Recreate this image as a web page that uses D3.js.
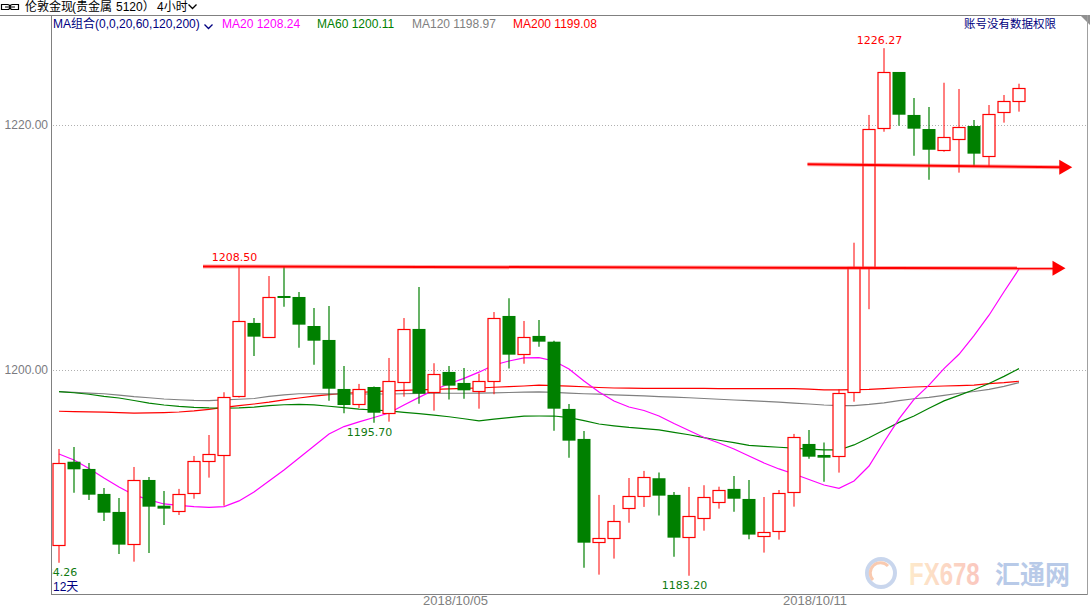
<!DOCTYPE html>
<html><head><meta charset="utf-8">
<script src="https://cdn.jsdelivr.net/npm/d3@7"></script>
<style>body{margin:0;background:#fff}svg{display:block}</style>
</head><body>
<svg id="c" width="1090" height="609"></svg>
<script>
// ---------- data ----------
const days = ["10/01","10/02","10/03","10/04","10/05","10/08","10/09","10/10","10/11","10/12","10/15"];
const hours = ["02:00","06:00","10:00","14:00","18:00","22:00"];
const open = [1185.71,1192.51,1191.92,1189.88,1188.41,1185.77,1191.02,1188.92,1188.47,1189.93,
  1192.55,1193.04,1197.90,1203.84,1202.72,1206.04,1205.96,1203.59,1202.45,1198.45,
  1197.20,1198.61,1196.47,1199.04,1203.35,1198.18,1199.84,1198.94,1198.26,1199.08,
  1204.41,1201.28,1202.78,1202.31,1196.82,1194.37,1185.93,1186.26,1188.71,1189.69,
  1191.16,1189.80,1186.34,1187.89,1189.20,1190.29,1189.47,1186.42,1186.83,1190.02,
  1193.96,1193.06,1192.96,1198.18,1208.43,1219.73,1224.33,1220.82,1219.67,1217.93,
  1218.83,1219.92,1217.49,1221.04,1221.93];
const high = [1193.55,1193.71,1192.41,1190.37,1189.55,1192.08,1191.27,1190.12,1190.29,1192.98,
  1194.69,1198.18,1208.50,1204.24,1207.67,1208.43,1206.37,1205.06,1205.22,1200.33,
  1198.86,1198.65,1200.98,1204.24,1206.78,1200.55,1200.33,1200.16,1199.70,1204.73,
  1205.85,1204.00,1204.08,1202.39,1197.22,1195.02,1189.80,1188.98,1191.18,1191.76,
  1191.62,1190.04,1190.45,1190.59,1190.47,1191.35,1191.02,1189.63,1190.20,1194.78,
  1195.10,1194.07,1198.42,1210.39,1220.82,1226.27,1224.33,1222.20,1221.47,1223.45,
  1222.94,1220.41,1221.63,1222.45,1223.37];
const low = [1184.26,1189.98,1189.39,1187.67,1184.98,1184.35,1185.06,1187.35,1188.16,1189.49,
  1191.21,1188.92,1197.75,1201.14,1202.64,1205.17,1201.82,1200.43,1197.49,1196.47,
  1196.90,1195.70,1195.78,1197.82,1197.25,1196.68,1197.58,1197.66,1196.84,1198.02,
  1200.11,1200.51,1201.90,1195.04,1192.84,1183.86,1183.29,1184.60,1187.53,1188.82,
  1188.11,1184.76,1183.20,1186.88,1188.68,1188.43,1186.18,1185.09,1186.15,1188.84,
  1192.76,1190.88,1191.62,1197.41,1204.96,1219.45,1219.94,1217.49,1215.53,1217.82,
  1216.11,1216.65,1216.65,1220.19,1221.09];
const close = [1192.38,1191.89,1189.82,1188.35,1185.74,1191.02,1188.84,1188.68,1189.85,1192.55,
  1193.12,1197.77,1204.00,1202.72,1205.93,1205.90,1203.70,1202.39,1198.47,1197.14,
  1198.42,1196.51,1199.08,1203.32,1198.07,1199.65,1198.72,1198.34,1199.08,1204.22,
  1201.25,1202.67,1202.31,1196.84,1194.23,1185.90,1186.26,1187.67,1189.69,1191.24,
  1189.74,1186.31,1188.06,1189.61,1190.18,1189.49,1186.56,1186.75,1189.93,1194.53,
  1192.92,1192.84,1198.10,1208.41,1219.65,1224.30,1220.84,1219.70,1217.98,1219.00,
  1219.81,1217.66,1220.87,1221.93,1223.00];
const ma20 = [1193.14,1192.65,1191.96,1191.18,1190.45,1189.80,1189.39,1189.06,1188.94,1188.84,
  1188.79,1188.84,1189.31,1190.04,1190.94,1191.84,1192.82,1193.80,1194.78,1195.38,
  1195.76,1196.12,1196.49,1197.14,1197.76,1198.37,1198.88,1199.31,1199.82,1200.41,
  1200.73,1200.98,1201.01,1200.73,1200.08,1199.10,1198.20,1197.47,1196.98,1196.69,
  1196.24,1195.63,1195.06,1194.49,1194.04,1193.55,1192.98,1192.41,1191.92,1191.51,
  1191.06,1190.61,1190.34,1190.94,1192.16,1194.12,1196.00,1197.60,1198.76,1200.11,
  1201.28,1202.80,1204.47,1206.39,1208.24];
const ma60 = [1198.23,1198.14,1198.02,1197.84,1197.71,1197.51,1197.30,1197.14,1197.02,1196.94,
  1196.90,1196.89,1196.90,1196.96,1197.09,1197.16,1197.19,1197.15,1197.04,1196.92,
  1196.81,1196.73,1196.66,1196.54,1196.44,1196.32,1196.18,1196.02,1195.85,1195.99,
  1196.11,1196.23,1196.24,1196.24,1196.11,1195.86,1195.59,1195.44,1195.31,1195.21,
  1195.11,1194.91,1194.71,1194.47,1194.26,1194.07,1193.85,1193.76,1193.69,1193.62,
  1193.53,1193.47,1193.47,1193.88,1194.47,1195.10,1195.72,1196.24,1196.88,1197.48,
  1197.93,1198.39,1198.89,1199.48,1200.11];
const ma120 = [1198.23,1198.17,1198.11,1198.06,1197.95,1197.82,1197.73,1197.63,1197.57,1197.51,
  1197.49,1197.56,1197.61,1197.67,1197.84,1197.96,1198.06,1198.06,1198.05,1198.04,
  1198.04,1198.04,1198.04,1198.06,1198.09,1198.10,1198.10,1198.10,1198.11,1198.13,
  1198.16,1198.19,1198.21,1198.17,1198.11,1198.06,1198.02,1197.97,1197.93,1197.88,
  1197.83,1197.78,1197.73,1197.67,1197.61,1197.55,1197.49,1197.43,1197.37,1197.29,
  1197.22,1197.14,1197.09,1197.09,1197.19,1197.32,1197.50,1197.65,1197.76,1197.93,
  1198.10,1198.24,1198.42,1198.66,1198.97];
const ma200 = [1196.63,1196.60,1196.58,1196.56,1196.51,1196.47,1196.49,1196.52,1196.57,1196.66,
  1196.79,1196.94,1197.09,1197.22,1197.37,1197.56,1197.71,1197.87,1197.98,1198.09,
  1198.16,1198.24,1198.29,1198.33,1198.37,1198.41,1198.45,1198.49,1198.53,1198.59,
  1198.64,1198.69,1198.76,1198.73,1198.68,1198.63,1198.57,1198.53,1198.51,1198.50,
  1198.50,1198.49,1198.49,1198.49,1198.48,1198.48,1198.48,1198.47,1198.47,1198.47,
  1198.43,1198.37,1198.38,1198.40,1198.42,1198.48,1198.55,1198.61,1198.65,1198.69,
  1198.73,1198.77,1198.89,1198.97,1199.08];
const yTicks = [1200, 1220];
const xTickCats = ["10/05 02:00", "10/11 02:00"];
const xTickLabels = ["2018/10/05", "2018/10/11"];
const labelIdx = [12, 21, 42, 55, 0];
const labelKind = ["high", "low", "low", "high", "low"];
const arrowStartIdx = [9.6, 49.9];
const arrowEndIdx = [67.1, 67.55];
const arrowStartPrice = [1208.45, 1216.79];
const arrowEndPrice = [1208.30, 1216.55];
const maNames = ["MA20", "MA60", "MA120", "MA200"];
const maColors = ["#ff00ff", "#008000", "#808080", "#ff0000"];

// categories table
const categories = [];
days.forEach(d => hours.forEach(h => { if (categories.length < open.length) categories.push(d + " " + h); }));

// ---------- layout ----------
const svg = d3.select("#c");
const W = 1090, H = 609;
const plot = {l: 51, r: 1087, t: 15, b: 594};
const xb = d3.scaleBand().domain(categories).range([plot.l, plot.l + 15 * categories.length]).padding(0);
const cx = c => xb(c) + xb.bandwidth() / 2 + 0.5;
const xi = d3.scaleLinear().domain([0, categories.length - 1]).range([cx(categories[0]), cx(categories[categories.length - 1])]);
const y = d3.scaleLinear().domain([1181.71, 1228.98]).range([plot.b, plot.t]);

const UP = "#ff0000", DOWN = "#008000";

// header
const hdr = svg.append("g").attr("font-family", "'Liberation Sans','Noto Sans CJK SC',sans-serif").attr("font-size", 12).attr("fill", "#000");
hdr.append("path").attr("d", "M1.5,4.5h6a2.5,2.5 0 0 1 0,5h-6z M18.5,4.5h-6a2.5,2.5 0 0 0 0,5h6z M5,7h10")
  .attr("fill", "none").attr("stroke", "#000").attr("stroke-width", 1.2);
hdr.append("text").attr("x", 25).attr("y", 11).text("伦敦金现");
hdr.append("text").attr("x", 72).attr("y", 11).text("(贵金属");
hdr.append("text").attr("x", 116).attr("y", 11).text("5120）");
hdr.append("text").attr("x", 157).attr("y", 11).text("4小时");
hdr.append("path").attr("d", "M188.5,4.5l4,4l4,-4").attr("fill", "none").attr("stroke", "#000").attr("stroke-width", 1.3);
svg.append("line").attr("x1", 0).attr("x2", W).attr("y1", 15.5).attr("y2", 15.5).attr("stroke", "#808080");
svg.append("path").attr("d", "M1080,15 L1090,15 L1090,25 Z").attr("fill", "#909090");

// frame
svg.append("line").attr("x1", plot.l + 0.5).attr("x2", plot.l + 0.5).attr("y1", plot.t).attr("y2", plot.b + 1).attr("stroke", "#808080");
svg.append("line").attr("x1", plot.l).attr("x2", plot.r + 1).attr("y1", plot.b + 0.5).attr("y2", plot.b + 0.5).attr("stroke", "#808080");
svg.append("line").attr("x1", plot.r + 0.5).attr("x2", plot.r + 0.5).attr("y1", plot.t).attr("y2", plot.b + 1).attr("stroke", "#a0a0a0");

// gridlines + y axis
svg.append("g").selectAll("line").data(yTicks).join("line")
  .attr("x1", plot.l + 2).attr("x2", plot.r).attr("y1", d => Math.round(y(d)) + 0.5).attr("y2", d => Math.round(y(d)) + 0.5)
  .attr("stroke", "#b0b0b0").attr("stroke-dasharray", "1,2");
const yAxis = svg.append("g").attr("transform", `translate(${plot.l - 2},0)`)
  .call(d3.axisLeft(y).tickValues(yTicks).tickFormat(d3.format(".2f")).tickSize(0).tickPadding(1));
yAxis.select(".domain").remove();
yAxis.selectAll("text").attr("font-family", "'Liberation Sans',Arial,sans-serif").attr("font-size", 12).attr("fill", "#7a7a80");

// x axis labels
const xAxis = svg.append("g").attr("transform", `translate(0,${plot.b})`)
  .call(d3.axisBottom(xb).tickValues(xTickCats).tickFormat((d, i) => xTickLabels[i]).tickSize(0).tickPadding(3));
xAxis.select(".domain").remove();
xAxis.selectAll("text").attr("font-family", "'Liberation Sans',Arial,sans-serif").attr("font-size", 13)
  .attr("fill", "#808080").attr("text-anchor", "start").attr("dx", 4).attr("dy", "0.65em");
xAxis.selectAll(".tick").attr("transform", d => `translate(${cx(d)},0)`);

// clip
svg.append("clipPath").attr("id", "pc").append("rect").attr("x", plot.l + 1).attr("y", plot.t + 1).attr("width", plot.r - plot.l - 1).attr("height", plot.b - plot.t - 1);
const pg = svg.append("g").attr("clip-path", "url(#pc)");

// MA lines
const maSeries = [ma20, ma60, ma120, ma200];
[3, 2, 1, 0].forEach(k => {
  pg.append("path").datum(maSeries[k])
    .attr("d", d3.line().x((d, i) => cx(categories[i])).y(d => y(d)))
    .attr("fill", "none").attr("stroke", maColors[k]).attr("stroke-width", 1.2);
});

// candles
const candles = categories.map((c, i) => ({c, o: open[i], h: high[i], l: low[i], cl: close[i]}));
const cg = pg.append("g");
candles.forEach(d => {
  const x0 = cx(d.c);
  const up = d.cl >= d.o;
  if (up) {
    const yt = Math.round(y(d.cl)) + 0.5, yb = Math.round(y(d.o)) + 0.5;
    cg.append("line").attr("x1", x0).attr("x2", x0).attr("y1", y(d.h)).attr("y2", yt).attr("stroke", UP);
    cg.append("line").attr("x1", x0).attr("x2", x0).attr("y1", yb).attr("y2", y(d.l)).attr("stroke", UP);
    cg.append("rect").attr("x", x0 - 6).attr("y", yt).attr("width", 12).attr("height", Math.max(1, yb - yt))
      .attr("fill", "#fff").attr("stroke", UP).attr("stroke-width", 1.2);
  } else {
    cg.append("line").attr("x1", x0).attr("x2", x0).attr("y1", y(d.h)).attr("y2", y(d.l)).attr("stroke", DOWN).attr("stroke-width", 1.2);
    const yt = y(d.o), yb = y(d.cl);
    cg.append("rect").attr("x", x0 - 6.5).attr("y", yt).attr("width", 13).attr("height", Math.max(2, yb - yt)).attr("fill", DOWN);
  }
});

// high / low labels
labelIdx.forEach((idx, k) => {
  const isHigh = labelKind[k] === "high";
  const v = isHigh ? high[idx] : low[idx];
  pg.append("text").attr("x", cx(categories[idx]) - 4.5).attr("y", isHigh ? y(v) - 4.5 : y(v) + 13.5)
    .attr("text-anchor", "middle").attr("font-family", "'DejaVu Sans',sans-serif").attr("font-size", 11)
    .attr("fill", isHigh ? "#ff0000" : "#107a10").text(v.toFixed(2));
});

// "12天"
svg.append("text").attr("x", 53).attr("y", 591).attr("font-family", "'Liberation Sans','Noto Sans CJK SC',sans-serif")
  .attr("font-size", 12).attr("fill", "#000080").text("12天");

// arrows
arrowStartIdx.forEach((s, k) => {
  const x1 = xi(s), y1 = y(arrowStartPrice[k]), x2 = xi(arrowEndIdx[k]), y2 = y(arrowEndPrice[k]);
  svg.append("line").attr("x1", x1).attr("y1", y1).attr("x2", x2 - 10).attr("y2", y2)
    .attr("stroke", "#ff4040").attr("stroke-opacity", 0.45).attr("stroke-width", 4);
  svg.append("line").attr("x1", x1).attr("y1", y1).attr("x2", x2 - 10).attr("y2", y2)
    .attr("stroke", "#ff0000").attr("stroke-width", 2);
  svg.append("path").attr("d", `M${x2},${y2} L${x2 - 13},${y2 - 7.5} L${x2 - 13},${y2 + 7.5} Z`).attr("fill", "#ff0000");
});

// legend
const lg = svg.append("g").attr("font-family", "'Liberation Sans','Noto Sans CJK SC',sans-serif").attr("font-size", 12);
lg.append("text").attr("x", 53).attr("y", 28).attr("fill", "#000080").text("MA组合(0,0,20,60,120,200)");
lg.append("path").attr("d", "M204.5,24.5l4,4l4,-4").attr("fill", "none").attr("stroke", "#000080").attr("stroke-width", 1.3);
const legX = [222, 317, 412, 513];
maNames.forEach((n, k) => {
  const s = maSeries[k];
  lg.append("text").attr("x", legX[k]).attr("y", 28).attr("fill", maColors[k]).text(n + " " + s[s.length - 1].toFixed(2));
});
lg.append("text").attr("x", 1056).attr("y", 28).attr("text-anchor", "end").attr("font-size", 11.5).attr("fill", "#000080").text("账号没有数据权限");

// watermark
const wm = svg.append("g").attr("opacity", 0.55);
const grad = svg.append("defs").append("linearGradient").attr("id", "wg").attr("x1", 0).attr("x2", 1);
grad.append("stop").attr("offset", "0%").attr("stop-color", "#fdd9a0");
grad.append("stop").attr("offset", "100%").attr("stop-color", "#f79a8a");
wm.append("circle").attr("cx", 881).attr("cy", 573).attr("r", 14).attr("fill", "none").attr("stroke", "#9db6e0").attr("stroke-width", 4);
wm.append("path").attr("d", "M873,580 A9,9 0 0 1 888,566").attr("fill", "none").attr("stroke", "#f5a070").attr("stroke-width", 3);
wm.append("text").attr("transform", "translate(909,585) scale(1,1.3)").attr("font-family", "'Liberation Sans',Arial,sans-serif").attr("font-weight", "bold")
  .attr("font-size", 24).attr("fill", "url(#wg)").text("FX678");
wm.append("text").attr("transform", "translate(995,584) scale(1,1.05)").attr("font-family", "'Noto Sans CJK SC',sans-serif").attr("font-weight", "bold")
  .attr("font-size", 25).attr("fill", "#7f9fd6").text("汇通网");
</script>
</body></html>
